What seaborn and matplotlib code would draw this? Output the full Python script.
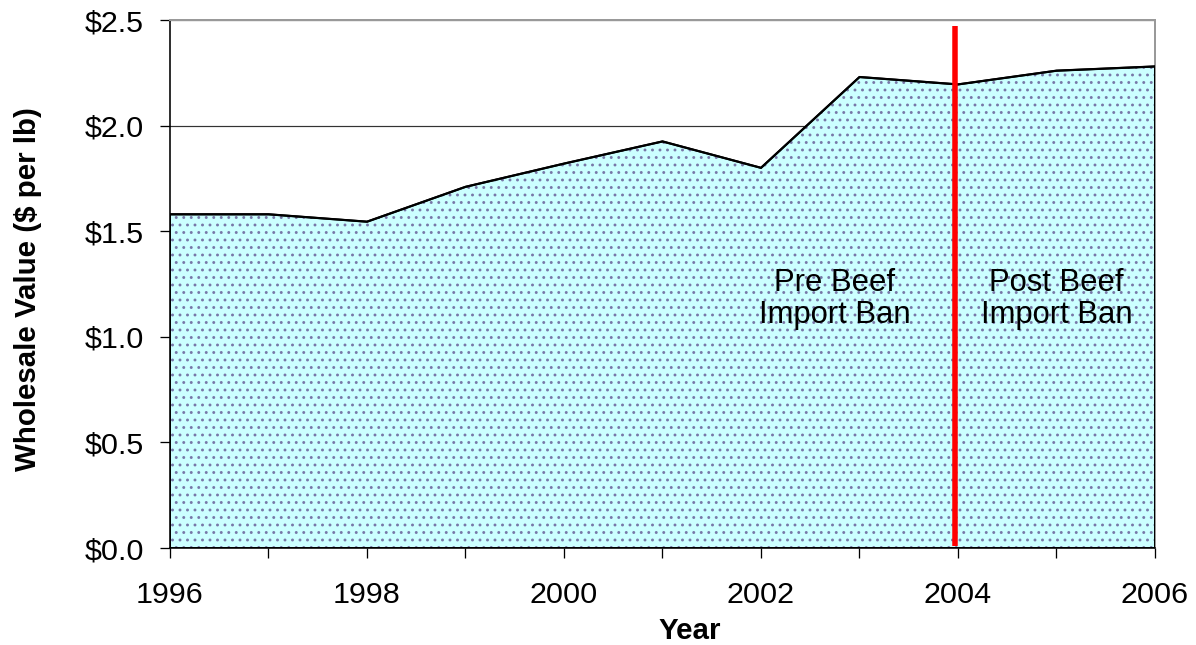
import matplotlib
matplotlib.use("Agg")
import matplotlib.pyplot as plt
import seaborn as sns
import pandas as pd
from matplotlib.ticker import MultipleLocator, FuncFormatter

# ---- data ----
years = [1996, 1997, 1998, 1999, 2000, 2001, 2002, 2003, 2004, 2005, 2006]
values = [1.58, 1.58, 1.545, 1.71, 1.82, 1.925, 1.80, 2.23, 2.195, 2.26, 2.28]
ban_year = 2003.97
ban_line_range = [0.01, 2.47]
pre_label = "Pre Beef\nImport Ban"
post_label = "Post Beef\nImport Ban"
pre_pos = (2002.75, 1.18)
post_pos = (2005.0, 1.18)
x_label = "Year"
y_label = "Wholesale Value ($ per lb)"

df = pd.DataFrame({"Year": years, "Value": values})

DPI = 90
W, H = 1196, 645


def px(v):
    """convert pixels to points for the chosen dpi"""
    return v * 72.0 / DPI


sns.set_theme(style="white")
plt.rcParams["font.family"] = ["Liberation Sans", "DejaVu Sans"]
plt.rcParams["hatch.linewidth"] = px(1.4)
for k in ["text.color", "axes.labelcolor", "xtick.color", "ytick.color"]:
    plt.rcParams[k] = "black"

fig = plt.figure(figsize=(W / DPI, H / DPI), dpi=DPI)
ax = fig.add_axes([170 / W, 1 - 548 / H, 985 / W, 528 / H])

# gridlines
ax.yaxis.grid(True, color="#333333", linewidth=px(1.2), zorder=0)
ax.set_axisbelow(True)

# filled area with dotted pattern
ax.fill_between(df["Year"], 0, df["Value"], facecolor="#CCFFFF",
                edgecolor="#7878A8", hatch="..", linewidth=0, zorder=2)
# outline of area
ax.fill_between(df["Year"], 0, df["Value"], facecolor="none",
                edgecolor="black", linewidth=px(2.0), zorder=3)
sns.lineplot(data=df, x="Year", y="Value", color="black", linewidth=px(2.2),
             ax=ax, zorder=4)

# ban line
ax.vlines(ban_year, ban_line_range[0], ban_line_range[1], color="#FF0000",
          linewidth=px(5.5), zorder=5)

ax.text(pre_pos[0], pre_pos[1], pre_label, ha="center", va="center",
        fontsize=px(31), linespacing=1.1, zorder=6)
ax.text(post_pos[0], post_pos[1], post_label, ha="center", va="center",
        fontsize=px(31), linespacing=1.1, zorder=6)

ax.set_xlim(1996, 2006)
ax.set_ylim(0, 2.5)
ax.xaxis.set_major_locator(MultipleLocator(2))
ax.xaxis.set_minor_locator(MultipleLocator(1))
ax.yaxis.set_major_locator(MultipleLocator(0.5))
ax.yaxis.set_major_formatter(FuncFormatter(lambda v, p: f"${v:.1f}"))

ax.tick_params(axis="both", which="both", direction="out", length=px(10),
               width=px(1.3), color="black", labelsize=px(30.5))
ax.tick_params(axis="x", which="both", bottom=True, pad=px(23))
ax.tick_params(axis="y", which="both", left=True, pad=px(16))

ax.set_xlabel(x_label, fontsize=px(29.5), fontweight="bold")
ax.xaxis.label.set_verticalalignment("baseline")
ax.xaxis.set_label_coords(0.528, -(639 - 548) / 528)
ax.set_ylabel(y_label, fontsize=px(29.5), fontweight="bold")
ax.yaxis.set_label_coords(-(170 - 42) / 985, 1 - (289 - 20) / 528)

for side in ["left", "bottom"]:
    ax.spines[side].set_color("black")
    ax.spines[side].set_linewidth(px(1.6))
for side in ["top", "right"]:
    ax.spines[side].set_color("#999999")
    ax.spines[side].set_linewidth(px(2.0))

fig.savefig("out.png", dpi=DPI)
